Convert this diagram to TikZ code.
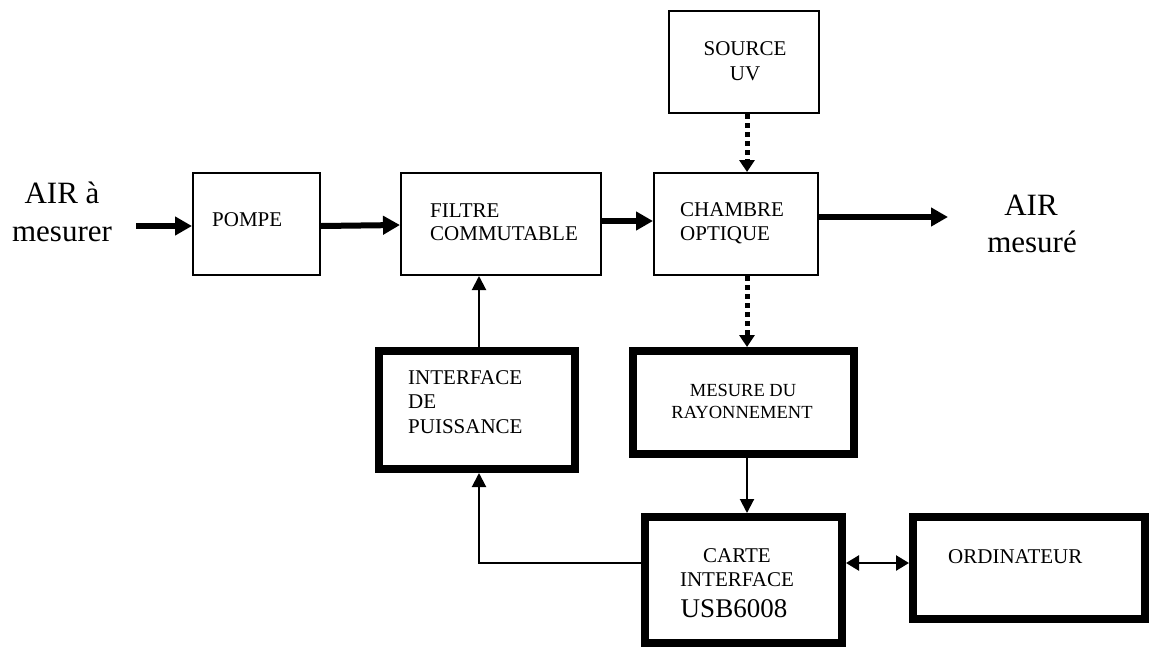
\documentclass[tikz,border=0pt]{standalone}
\usepackage{fontspec}
\setmainfont{Liberation Serif}
\usetikzlibrary{arrows.meta,calc}
\begin{document}
\begin{tikzpicture}[x=1pt,y=-1pt,
  thinbox/.style={draw=black,line width=2pt,inner sep=0pt,fill=white},
  thickbox/.style={draw=black,line width=8pt,inner sep=0pt,fill=white},
  lab/.style={inner sep=0pt,font=\fontsize{21}{25}\selectfont},
  labsm/.style={inner sep=0pt,font=\fontsize{18.5}{22}\selectfont},
  big/.style={inner sep=0pt,font=\fontsize{31}{36}\selectfont},
  flow/.style={line width=6pt,-{Triangle[length=17pt,width=18pt]}},
  sig/.style={line width=2pt,-{Triangle[length=14pt,width=14pt]}},
  ray/.style={line width=5pt,dash pattern=on 5pt off 4pt,-{Triangle[length=12pt,width=15pt]}},
  both/.style={line width=2.5pt,{Triangle[length=13pt,width=15pt]}-{Triangle[length=13pt,width=15pt]}}
]
\useasboundingbox[fill=white] (0,0) rectangle (1151,648);

% boxes
\node[thinbox,minimum width=127pt,minimum height=102pt] (pompe) at (256.5,224) {};
\node[thinbox,minimum width=200pt,minimum height=102pt] (filtre) at (501,224) {};
\node[thinbox,minimum width=164pt,minimum height=102pt] (chambre) at (736,224) {};
\node[thinbox,minimum width=150pt,minimum height=102pt] (source) at (744,62) {};
\node[thickbox,minimum width=196pt,minimum height=118pt] (interface) at (477,410) {};
\node[thickbox,minimum width=221pt,minimum height=103pt] (mesure) at (743.5,402.5) {};
\node[thickbox,minimum width=197pt,minimum height=126pt] (carte) at (743.5,580) {};
\node[thickbox,minimum width=232pt,minimum height=102pt] (ordi) at (1029,568) {};

% texts
\node[big,anchor=base] (airA) at (62,203) {AIR à};
\node[big,anchor=base] (airB) at (62,241) {mesurer};
\node[big,anchor=base] (outA) at (1031,215) {AIR};
\node[big,anchor=base] (outB) at (1032,252) {mesuré};
\node[lab,anchor=base west] (tpompe) at (212,226) {POMPE};
\node[lab,anchor=base west] (tfilA) at (430,217) {FILTRE};
\node[lab,anchor=base west] (tfilB) at (430,240) {COMMUTABLE};
\node[lab,anchor=base west] (tchA) at (680,216) {CHAMBRE};
\node[lab,anchor=base west] (tchB) at (680,240) {OPTIQUE};
\node[lab,anchor=base] (tsrcA) at (745,55) {SOURCE};
\node[lab,anchor=base] (tsrcB) at (745,80) {UV};
\node[lab,anchor=base west] (tintA) at (408,384) {INTERFACE};
\node[lab,anchor=base west] (tintB) at (408,408) {DE};
\node[lab,anchor=base west] (tintC) at (408,433) {PUISSANCE};
\node[labsm,anchor=base] (tmesA) at (743,396) {MESURE DU};
\node[labsm,anchor=base] (tmesB) at (742,418) {RAYONNEMENT};
\node[lab,anchor=base] (tcaA) at (737,562) {CARTE};
\node[lab,anchor=base] (tcaB) at (737,586) {INTERFACE};
\node[inner sep=0pt,font=\fontsize{27}{31}\selectfont,anchor=base] (tcaC) at (734,617) {USB6008};
\node[lab,anchor=base west] (tordi) at (948,563) {ORDINATEUR};

% free ends
\coordinate (in) at (136,226);
\coordinate (out) at (948,217);
\coordinate (lk) at (0,563);

% connectors
\draw[flow] (in) -- (in -| pompe.west);
\draw[flow] ([yshift=-2pt]pompe.east) -- ([yshift=-1pt]filtre.west);
\draw[flow] ([yshift=3pt]filtre.east) -- ([yshift=3pt]chambre.west);
\draw[flow] (out -| chambre.east) -- (out);
\draw[ray] ([xshift=3pt]source.south) -- ([xshift=3pt]source.south |- chambre.north);
\draw[ray] ([xshift=11pt]chambre.south) -- ([xshift=11pt]chambre.south |- mesure.north);
\draw[sig] ([xshift=2pt]interface.north) -- ([xshift=2pt]interface.north |- filtre.south);
\draw[sig] ([xshift=3.5pt]mesure.south) -- ([xshift=3.5pt]mesure.south |- carte.north);
\draw[sig] (carte.west |- lk) -| ([xshift=2pt]interface.south);
\draw[both] (carte.east |- lk) -- (ordi.west |- lk);
\end{tikzpicture}
\end{document}
